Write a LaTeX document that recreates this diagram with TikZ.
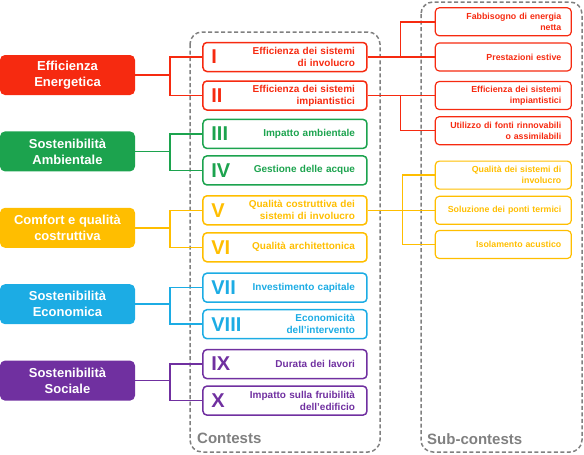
\documentclass[tikz,border=0pt]{standalone}
\usepackage{fontspec}
\setmainfont{Liberation Sans}
\usetikzlibrary{positioning}

\definecolor{eered}{RGB}{246,42,16}
\definecolor{sagreen}{RGB}{28,163,78}
\definecolor{coyellow}{RGB}{255,190,0}
\definecolor{ecoblue}{RGB}{28,172,228}
\definecolor{sopurple}{RGB}{112,48,160}
\definecolor{framegray}{RGB}{128,128,128}

\begin{document}
\begin{tikzpicture}[
    x=1pt, y=-1pt,
    area/.style={fill=#1, rounded corners=5pt, text=white, align=center, minimum width=135pt, minimum height=40pt, inner sep=2pt, font=\fontsize{13}{16}\selectfont\bfseries},
    contest/.style 2 args={draw=#1, text=#1, line width=1.5pt, rounded corners=4pt, align=right, text width=140pt, inner xsep=12pt, inner ysep=2pt, minimum height=29pt, font=\fontsize{10}{12}\selectfont\bfseries, label={[numeral, text=#1]west:#2}},
    subcontest/.style={draw=#1, text=#1, line width=1.2pt, rounded corners=4pt, align=right, text width=116pt, inner xsep=10pt, inner ysep=2pt, minimum height=28pt, font=\fontsize{8.8}{11}\selectfont\bfseries},
    numeral/.style={anchor=west, xshift=9pt, inner sep=0pt, font=\fontsize{20}{20}\selectfont\bfseries},
    link/.style={line width=1.5pt},
    group/.style={draw=framegray, line width=1.5pt, rounded corners=12pt, dash pattern=on 4pt off 2.5pt},
    grouplabel/.style={anchor=base west, inner sep=0pt, text=framegray, font=\fontsize{15}{15}\selectfont\bfseries}
]
\useasboundingbox (0,0) rectangle (584,455);

% dashed groups
\draw[group] (190,32) rectangle (380,452);
\draw[group] (421,2) rectangle (582,452);
\node[grouplabel] (contestslabel) at (197,443) {Contests};
\node[grouplabel] (sublabel) at (427,444) {Sub-contests};

% areas
\node[area=eered] (ee) at (67.5,75) {Efficienza\\Energetica};
\node[area=sagreen, below=36pt of ee] (sa) {Sostenibilità\\Ambientale};
\node[area=coyellow, below=36pt of sa] (co) {Comfort e qualità\\costruttiva};
\node[area=ecoblue, below=36pt of co] (eco) {Sostenibilità\\Economica};
\node[area=sopurple, below=36pt of eco] (so) {Sostenibilità\\Sociale};

% contests
\node[contest={eered}{I}, right=67pt of ee, yshift=18pt] (c1) {Efficienza dei sistemi\\di involucro};
\node[contest={eered}{II}, below=8pt of c1] (c2) {Efficienza dei sistemi\\impiantistici};
\node[contest={sagreen}{III}, right=67pt of sa, yshift=17.5pt] (c3) {Impatto ambientale};
\node[contest={sagreen}{IV}, below=6pt of c3] (c4) {Gestione delle acque};
\node[contest={coyellow}{V}, right=67pt of co, yshift=17.5pt] (c5) {Qualità costruttiva dei\\sistemi di involucro};
\node[contest={coyellow}{VI}, below=6.5pt of c5] (c6) {Qualità architettonica};
\node[contest={ecoblue}{VII}, right=67pt of eco, yshift=16.5pt] (c7) {Investimento capitale};
\node[contest={ecoblue}{VIII}, below=6pt of c7] (c8) {Economicità\\dell'intervento};
\node[contest={sopurple}{IX}, right=67pt of so, yshift=16.5pt] (c9) {Durata dei lavori};
\node[contest={sopurple}{X}, below=6pt of c9] (c10) {Impatto sulla fruibilità\\dell'edificio};

% sub-contests
\node[subcontest=eered, right=67pt of c1] (s2) {Prestazioni estive};
\node[subcontest=eered, above=6pt of s2] (s1) {Fabbisogno di energia\\netta};
\node[subcontest=eered, right=67pt of c2] (s3) {Efficienza dei sistemi\\impiantistici};
\node[subcontest=eered, below=6pt of s3] (s4) {Utilizzo di fonti rinnovabili\\o assimilabili};
\node[subcontest=coyellow, right=67pt of c5] (s6) {Soluzione dei ponti termici};
\node[subcontest=coyellow, above=6pt of s6] (s5) {Qualità dei sistemi di\\involucro};
\node[subcontest=coyellow, below=5pt of s6] (s7) {Isolamento acustico};

% areas to contests
\draw[link, eered] (ee.east) -- ++(35,0) |- (c1.west);
\draw[link, eered] (ee.east) -- ++(35,0) |- (c2.west);
\draw[link, sagreen] (sa.east) -- ++(35,0) |- (c3.west);
\draw[link, sagreen] (sa.east) -- ++(35,0) |- (c4.west);
\draw[link, coyellow] (co.east) -- ++(35,0) |- (c5.west);
\draw[link, coyellow] (co.east) -- ++(35,0) |- (c6.west);
\draw[link, ecoblue] (eco.east) -- ++(35,0) |- (c7.west);
\draw[link, ecoblue] (eco.east) -- ++(35,0) |- (c8.west);
\draw[link, sopurple] (so.east) -- ++(35,0) |- (c9.west);
\draw[link, sopurple] (so.east) -- ++(35,0) |- (c10.west);

% contests to sub-contests
\draw[link, eered] (c1.east) -- ++(33,0) |- (s1.west);
\draw[link, eered] (c1.east) -- ++(33,0) |- (s2.west);
\draw[link, eered] (c2.east) -- ++(33,0) |- (s3.west);
\draw[link, eered] (c2.east) -- ++(33,0) |- (s4.west);
\draw[link, coyellow] (c5.east) -- ++(35,0) |- (s5.west);
\draw[link, coyellow] (c5.east) -- ++(35,0) |- (s6.west);
\draw[link, coyellow] (c5.east) -- ++(35,0) |- (s7.west);
\end{tikzpicture}
\end{document}
